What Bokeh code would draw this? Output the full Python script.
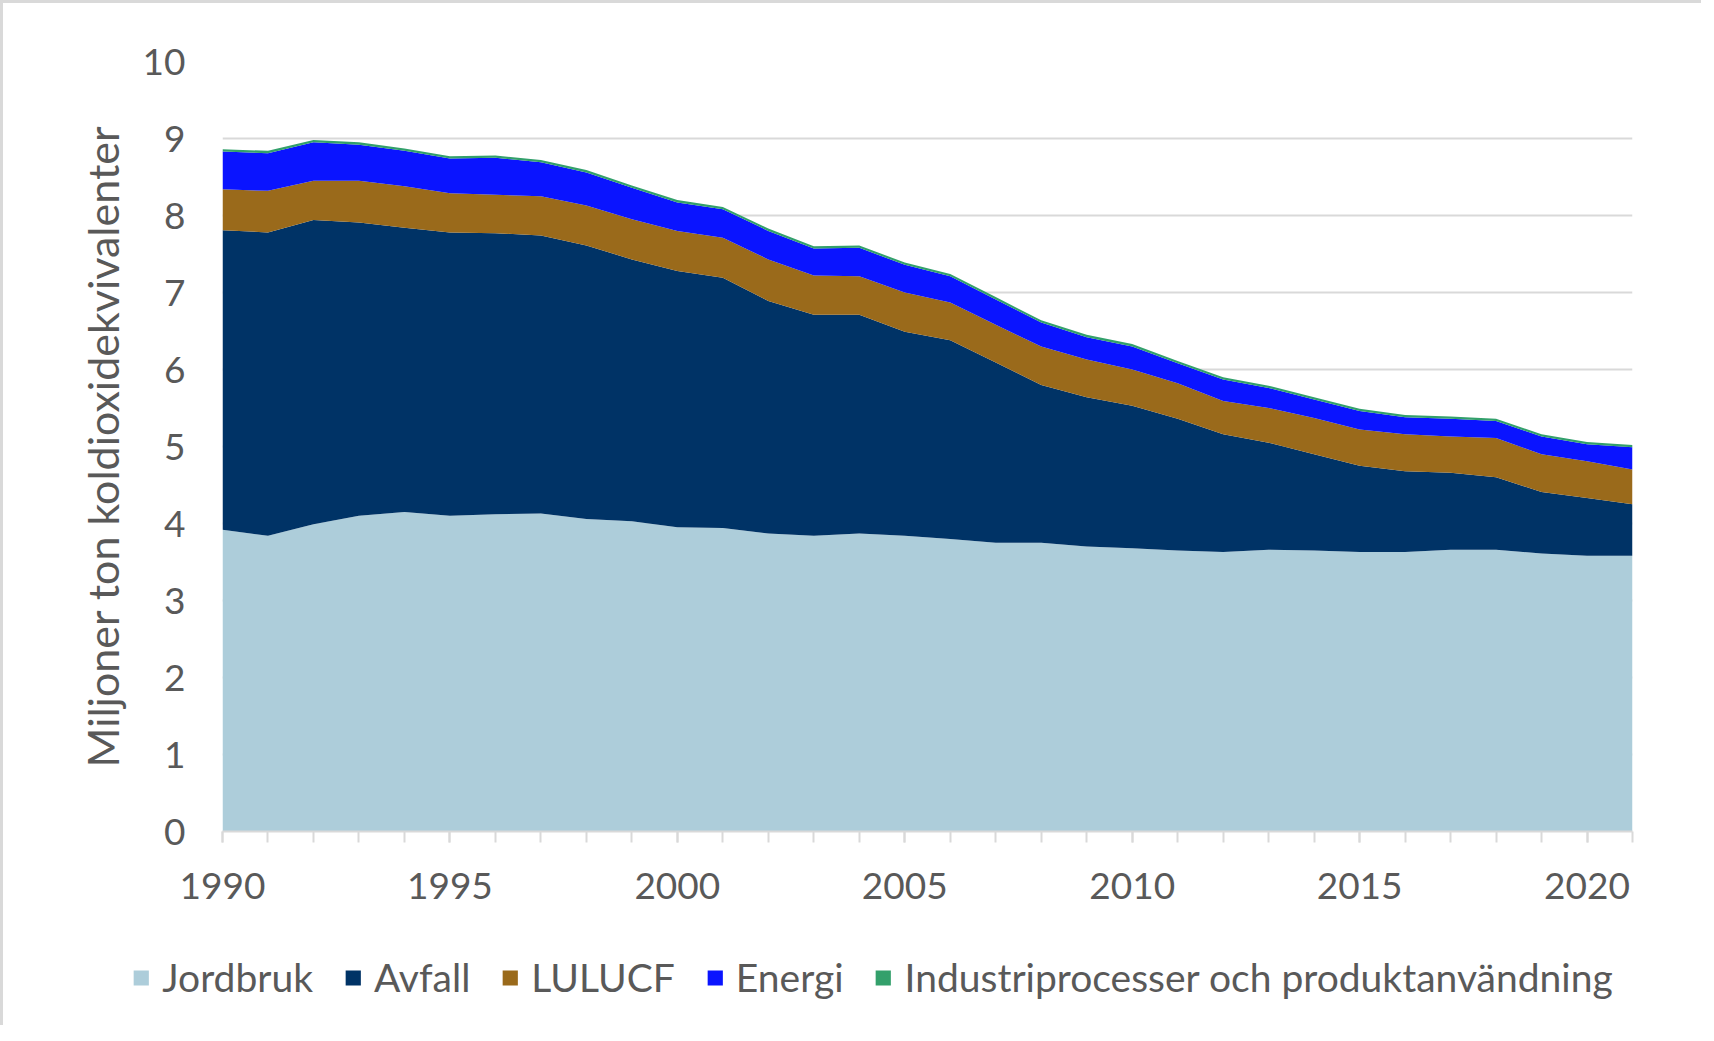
from bokeh.plotting import figure
from bokeh.layouts import column
from bokeh.models import ColumnDataSource, FixedTicker, Legend, LegendItem
from bokeh.embed import file_html
from bokeh.resources import INLINE

years = list(range(1990, 2022))

jordbruk = [3.92, 3.84, 3.99, 4.10, 4.15, 4.10, 4.12, 4.13, 4.06, 4.03,
            3.95, 3.94, 3.87, 3.84, 3.87, 3.84, 3.80, 3.75, 3.75, 3.70,
            3.68, 3.65, 3.63, 3.66, 3.65, 3.63, 3.63, 3.66, 3.66, 3.61,
            3.58, 3.58]
avfall = [3.89, 3.94, 3.95, 3.81, 3.69, 3.68, 3.65, 3.61, 3.55, 3.40,
          3.33, 3.25, 3.02, 2.87, 2.84, 2.65, 2.58, 2.34, 2.05, 1.94,
          1.85, 1.71, 1.53, 1.39, 1.25, 1.12, 1.05, 1.00, 0.94, 0.80,
          0.75, 0.67]
lulucf = [0.53, 0.54, 0.51, 0.54, 0.54, 0.51, 0.50, 0.51, 0.52, 0.52,
          0.52, 0.52, 0.54, 0.51, 0.50, 0.51, 0.49, 0.49, 0.50, 0.49,
          0.47, 0.46, 0.43, 0.45, 0.47, 0.47, 0.48, 0.47, 0.51, 0.49,
          0.48, 0.45]
energi = [0.49, 0.49, 0.50, 0.47, 0.46, 0.45, 0.48, 0.44, 0.43, 0.41,
          0.37, 0.37, 0.37, 0.35, 0.37, 0.36, 0.34, 0.33, 0.31, 0.29,
          0.30, 0.26, 0.28, 0.26, 0.24, 0.24, 0.22, 0.23, 0.22, 0.23,
          0.22, 0.29]
industri = [0.03, 0.03, 0.03, 0.03, 0.03, 0.03, 0.03, 0.03, 0.03, 0.03,
            0.03, 0.03, 0.03, 0.03, 0.03, 0.03, 0.03, 0.03, 0.03, 0.03,
            0.03, 0.03, 0.03, 0.03, 0.03, 0.03, 0.03, 0.03, 0.03, 0.03,
            0.03, 0.03]

series_keys = ["jordbruk", "avfall", "lulucf", "energi", "industri"]
series_labels = ["Jordbruk", "Avfall", "LULUCF", "Energi",
                 "Industriprocesser och produktanvändning"]
series_colors = ["#ADCDDA", "#003366", "#9A6A1B", "#0A14FF", "#33A06B"]

x_major_ticks = [1990, 1995, 2000, 2005, 2010, 2015, 2020]
y_ticks = [0, 1, 2, 3, 4, 5, 6, 7, 8, 9, 10]

source = ColumnDataSource(dict(year=years, jordbruk=jordbruk, avfall=avfall,
                               lulucf=lulucf, energi=energi, industri=industri))

FONT = "Lato"
TXT = "#595959"
GRID = "#D9D9D9"

p = figure(frame_width=1410, frame_height=770, x_range=(1990, 2021), y_range=(0, 10),
           output_backend="svg", toolbar_location=None,
           min_border_left=219, min_border_top=58, min_border_right=69,
           min_border_bottom=80)
p.frame_align = False

renderers = p.varea_stack(stackers=series_keys, x="year", color=series_colors,
                          source=source)

p.outline_line_color = None
p.xgrid.grid_line_color = None
p.ygrid.grid_line_color = GRID
p.ygrid.grid_line_width = 2

p.yaxis.ticker = FixedTicker(ticks=y_ticks)
p.yaxis.axis_line_color = None
p.yaxis.major_tick_line_color = None
p.yaxis.minor_tick_line_color = None
p.yaxis.major_tick_out = 0
p.yaxis.major_tick_in = 0
p.yaxis.major_label_standoff = 37
p.yaxis.major_label_text_font = FONT
p.yaxis.major_label_text_font_size = "37px"
p.yaxis.major_label_text_color = TXT
p.yaxis.axis_label = "Miljoner ton koldioxidekvivalenter"
p.yaxis.axis_label_text_font = FONT
p.yaxis.axis_label_text_font_size = "43px"
p.yaxis.axis_label_text_font_style = "normal"
p.yaxis.axis_label_text_color = TXT
p.yaxis.axis_label_standoff = 12

p.xaxis.ticker = FixedTicker(ticks=x_major_ticks, minor_ticks=years)
p.xaxis.axis_line_color = GRID
p.xaxis.axis_line_width = 2
p.xaxis.major_tick_line_color = GRID
p.xaxis.major_tick_line_width = 2
p.xaxis.minor_tick_line_color = GRID
p.xaxis.minor_tick_line_width = 2
p.xaxis.major_tick_out = 11
p.xaxis.major_tick_in = 0
p.xaxis.minor_tick_out = 11
p.xaxis.minor_tick_in = 0
p.xaxis.major_label_standoff = 30
p.xaxis.major_label_text_font = FONT
p.xaxis.major_label_text_font_size = "37px"
p.xaxis.major_label_text_color = TXT

# legend strip: a separate figure holding hidden copies of the same stacks
leg = figure(width=1698, height=114, x_range=(0, 1), y_range=(0, 1),
             output_backend="svg", toolbar_location=None,
             x_axis_location=None, y_axis_location=None,
             min_border_left=40, min_border_right=0,
             min_border_top=18, min_border_bottom=0)
leg.frame_align = False
leg.outline_line_color = None
leg.xgrid.grid_line_color = None
leg.ygrid.grid_line_color = None
leg_renderers = leg.varea_stack(stackers=series_keys, x="year", color=series_colors,
                                source=source)

items = [LegendItem(label=lab, renderers=[r]) for lab, r in zip(series_labels, leg_renderers)]
legend = Legend(items=items, orientation="horizontal", location="center",
                label_text_font=FONT, label_text_font_size="39px",
                label_text_color=TXT, glyph_width=19, glyph_height=19,
                label_standoff=12, spacing=30, padding=0, margin=0,
                border_line_color=None, background_fill_alpha=0)
leg.add_layout(legend, "center")

layout = column(p, leg, spacing=0)
layout.styles = {"border-top": "3px solid #D9D9D9", "border-left": "3px solid #D9D9D9"}

open("out.html", "w").write(file_html(layout, INLINE))
